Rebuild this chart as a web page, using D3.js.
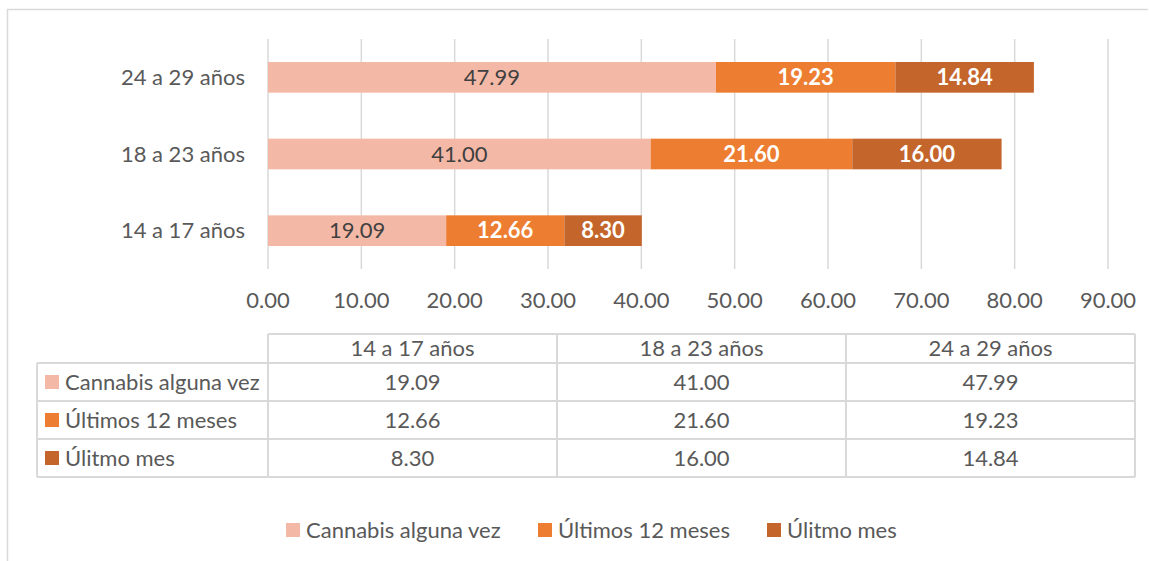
<!DOCTYPE html>
<html>
<head>
<meta charset="utf-8">
<script src="https://cdn.jsdelivr.net/npm/d3@7"></script>
<style>
  body { margin: 0; background: #fff; }
  text { font-family: Lato, "Open Sans", sans-serif; fill: #595959; }
</style>
</head>
<body>
<svg id="chart"></svg>
<script>
// data
var categories = ["14 a 17 años", "18 a 23 años", "24 a 29 años"];
var seriesNames = ["Cannabis alguna vez", "Últimos 12 meses", "Úlitmo mes"];
var alguna = [19.09, 41.00, 47.99];
var ultimos12 = [12.66, 21.60, 19.23];
var ultimoMes = [8.30, 16.00, 14.84];
var ticks = [0, 10, 20, 30, 40, 50, 60, 70, 80, 90];

var colors = ["#F4B9A6", "#ED7D31", "#C4652B"];
var seriesValues = [alguna, ultimos12, ultimoMes];
var fs = 22;

var width = 1149, height = 561;
var svg = d3.select("#chart").attr("width", width).attr("height", height);

// outer frame
svg.append("path")
   .attr("d", "M7.5,561 L7.5,9.5 L1148,9.5")
   .attr("fill", "none")
   .attr("stroke", "#d9d9d9")
   .attr("stroke-width", 1.5);

var x = d3.scaleLinear().domain([0, 90]).range([268, 1108]);
var y = d3.scaleBand()
          .domain(categories.slice().reverse())
          .range([39, 269])
          .paddingInner(0.6)
          .paddingOuter(0.3);

// gridlines
svg.selectAll("line.grid")
   .data(ticks)
   .enter()
   .append("line")
   .attr("class", "grid")
   .attr("x1", function(d){ return x(d); })
   .attr("x2", function(d){ return x(d); })
   .attr("y1", 39)
   .attr("y2", 269)
   .attr("stroke", "#d9d9d9")
   .attr("stroke-width", 1.5);

// tick labels
svg.selectAll("text.tick")
   .data(ticks)
   .enter()
   .append("text")
   .attr("class", "tick")
   .text(function(d){ return d.toFixed(2); })
   .attr("x", function(d){ return x(d); })
   .attr("y", 300)
   .attr("dy", "0.35em")
   .attr("text-anchor", "middle")
   .attr("font-size", fs);

// category labels
svg.selectAll("text.cat")
   .data(categories)
   .enter()
   .append("text")
   .attr("class", "cat")
   .text(function(d){ return d; })
   .attr("x", 245)
   .attr("y", function(d){ return y(d) + y.bandwidth()/2; })
   .attr("dy", "0.35em")
   .attr("text-anchor", "end")
   .attr("font-size", fs);

// stacked segments
var segs = [];
categories.forEach(function(c, ci){
  var start = 0;
  seriesValues.forEach(function(vals, si){
    segs.push({cat: c, s: si, x0: start, x1: start + vals[ci], v: vals[ci]});
    start += vals[ci];
  });
});

svg.selectAll("rect.seg")
   .data(segs)
   .enter()
   .append("rect")
   .attr("class", "seg")
   .attr("x", function(d){ return x(d.x0); })
   .attr("y", function(d){ return y(d.cat); })
   .attr("width", function(d){ return x(d.x1) - x(d.x0); })
   .attr("height", y.bandwidth())
   .attr("fill", function(d){ return colors[d.s]; });

svg.selectAll("text.val")
   .data(segs)
   .enter()
   .append("text")
   .attr("class", "val")
   .text(function(d){ return d.v.toFixed(2); })
   .attr("x", function(d){ return (x(d.x0) + x(d.x1))/2; })
   .attr("y", function(d){ return y(d.cat) + y.bandwidth()/2; })
   .attr("dy", "0.35em")
   .attr("text-anchor", "middle")
   .attr("font-size", fs)
   .attr("font-weight", function(d){ return d.s == 0 ? "normal" : "bold"; })
   .style("fill", function(d){ return d.s == 0 ? "#404040" : "#ffffff"; });

// data table
var colEdges = [268, 557, 846, 1135];
var rowEdges = [334, 363, 401, 439, 477];
var tableLeft = 37;
var line = function(x1, y1, x2, y2){
  svg.append("line")
     .attr("x1", x1).attr("y1", y1).attr("x2", x2).attr("y2", y2)
     .attr("stroke", "#d9d9d9").attr("stroke-width", 2);
};
// horizontal lines
line(colEdges[0], rowEdges[0], colEdges[3], rowEdges[0]);
for (var r = 1; r < rowEdges.length; r++) line(tableLeft, rowEdges[r], colEdges[3], rowEdges[r]);
// vertical lines
line(tableLeft, rowEdges[1], tableLeft, rowEdges[4]);
colEdges.forEach(function(cx){ line(cx, rowEdges[0], cx, rowEdges[4]); });

// header
svg.selectAll("text.head")
   .data(categories)
   .enter()
   .append("text")
   .attr("class", "head")
   .text(function(d){ return d; })
   .attr("x", function(d, i){ return (colEdges[i] + colEdges[i+1])/2; })
   .attr("y", (rowEdges[0] + rowEdges[1])/2)
   .attr("dy", "0.35em")
   .attr("text-anchor", "middle")
   .attr("font-size", fs);

seriesNames.forEach(function(name, si){
  var cy = (rowEdges[si+1] + rowEdges[si+2])/2;
  svg.append("rect")
     .attr("x", 45).attr("y", cy - 7)
     .attr("width", 14).attr("height", 14)
     .attr("fill", colors[si]);
  svg.append("text")
     .text(name)
     .attr("x", 65).attr("y", cy)
     .attr("dy", "0.35em")
     .attr("font-size", fs);
  seriesValues[si].forEach(function(v, ci){
    svg.append("text")
       .text(v.toFixed(2))
       .attr("x", (colEdges[ci] + colEdges[ci+1])/2)
       .attr("y", cy)
       .attr("dy", "0.35em")
       .attr("text-anchor", "middle")
       .attr("font-size", fs);
  });
});

// legend
var legendX = [286, 538, 767];
var legend = svg.selectAll("g.legend")
   .data(seriesNames)
   .enter()
   .append("g")
   .attr("class", "legend")
   .attr("transform", function(d, i){ return "translate(" + legendX[i] + ",530)"; });
legend.append("rect")
   .attr("x", 0).attr("y", -7)
   .attr("width", 14).attr("height", 14)
   .attr("fill", function(d, i){ return colors[i]; });
legend.append("text")
   .text(function(d){ return d; })
   .attr("x", 20)
   .attr("dy", "0.35em")
   .attr("font-size", fs);
</script>
</body>
</html>
